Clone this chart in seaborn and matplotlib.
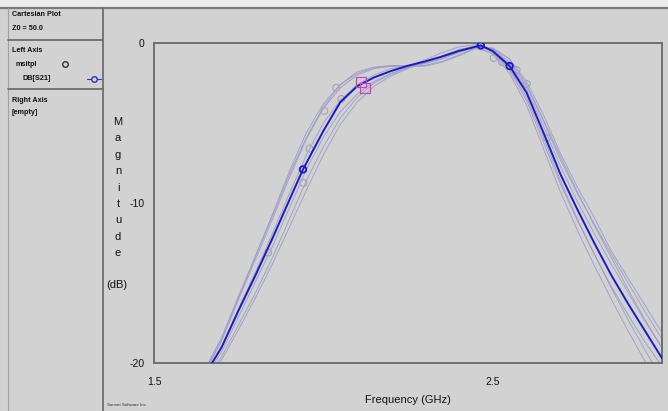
import matplotlib
matplotlib.use("Agg")
import matplotlib.pyplot as plt
from matplotlib.lines import Line2D
import seaborn as sns

# frequency grid (GHz) shared by the faint sweep curves
freq = [1.66, 1.70, 1.75, 1.80, 1.85, 1.90, 1.95, 2.00, 2.05, 2.10, 2.15, 2.20, 2.25, 2.30,
        2.35, 2.40, 2.45, 2.50, 2.55, 2.60, 2.65, 2.70, 2.75, 2.80, 2.85, 2.90, 2.95, 3.00]

sweep_a = [-20.0, -18.4, -15.8, -13.3, -10.8, -8.2, -5.9, -4.0, -2.6, -1.8, -1.5, -1.4, -1.45, -1.45,
           -1.2, -0.8, -0.35, -0.6, -1.7, -3.6, -6.2, -8.8, -11.1, -13.2, -15.2, -17.0, -18.7, -20.2]
sweep_b = [-20.2, -18.6, -16.0, -13.5, -11.0, -8.4, -6.0, -4.1, -2.8, -2.0, -1.6, -1.45, -1.4, -1.3,
           -1.0, -0.6, -0.25, -0.4, -1.2, -2.7, -4.9, -7.3, -9.4, -11.3, -13.2, -15.0, -16.8, -18.5]
sweep_c = [-20.8, -19.6, -17.6, -15.6, -13.4, -11.0, -8.6, -6.5, -4.7, -3.4, -2.5, -1.95, -1.55, -1.2,
           -0.85, -0.45, -0.2, -0.35, -1.0, -2.4, -4.5, -6.9, -9.0, -10.9, -13.0, -14.7, -16.4, -18.1]
sweep_d = [-20.6, -19.3, -17.1, -14.9, -12.7, -10.3, -7.9, -5.9, -4.3, -3.2, -2.4, -1.9, -1.5, -1.05,
           -0.6, -0.25, -0.1, -0.55, -1.6, -3.4, -5.9, -8.6, -11.0, -13.2, -15.3, -17.3, -19.2, -21.0]
sweep_e = [-20.1, -18.5, -15.9, -13.3, -10.7, -8.0, -5.6, -3.8, -2.6, -1.9, -1.55, -1.45, -1.45, -1.4,
           -1.15, -0.75, -0.3, -0.3, -1.0, -2.6, -4.8, -7.1, -9.3, -11.4, -13.4, -15.4, -17.3, -19.1]
sweep_f = [-20.4, -19.0, -16.6, -14.3, -11.9, -9.4, -7.0, -5.0, -3.6, -2.6, -2.0, -1.6, -1.45, -1.25,
           -0.95, -0.55, -0.2, -0.7, -1.9, -3.9, -6.6, -9.3, -11.7, -13.9, -16.0, -18.0, -19.9, -21.7]
sweep_g = [-20.9, -19.8, -17.9, -15.9, -13.8, -11.5, -9.2, -7.0, -5.1, -3.7, -2.7, -2.05, -1.6, -1.2,
           -0.8, -0.4, -0.2, -0.45, -1.3, -2.9, -5.2, -7.7, -9.9, -11.9, -13.8, -15.6, -17.4, -19.0]
sweeps = [sweep_a, sweep_b, sweep_c, sweep_d, sweep_e, sweep_f, sweep_g]

# highlighted DB[S21] curve
main_freq = [1.66, 1.70, 1.75, 1.80, 1.85, 1.90, 1.94, 2.00, 2.05, 2.10, 2.15, 2.20, 2.25, 2.30,
             2.35, 2.40, 2.465, 2.50, 2.55, 2.60, 2.65, 2.70, 2.75, 2.80, 2.85, 2.90, 2.95, 3.00]
main_db = [-20.4, -19.0, -16.7, -14.5, -12.2, -9.8, -7.9, -5.5, -3.7, -2.7, -2.15, -1.75, -1.42, -1.15,
           -0.85, -0.5, -0.15, -0.5, -1.44, -3.1, -5.6, -8.2, -10.4, -12.5, -14.5, -16.3, -18.0, -19.7]

main_mark_freq = [1.94, 2.465, 2.55]
main_mark_db = [-7.9, -0.15, -1.44]

sweep_mark_freq = [1.837, 1.941, 1.959, 2.003, 2.038, 2.053, 2.503, 2.527, 2.571, 2.601, 2.660]
sweep_mark_db = [-13.1, -8.75, -6.6, -4.25, -2.8, -3.5, -0.94, -1.19, -1.69, -2.56, -5.94]

probe_freq = [2.112, 2.124]
probe_db = [-2.45, -2.8]

BG = "#d2d2d2"
FAINT = "#9a9ac8"
MAIN = "#1a1ac8"
EDGE = "#6e6e6e"

sns.set_style("white")
plt.rcParams["font.family"] = ["Liberation Sans", "DejaVu Sans"]

fig = plt.figure(figsize=(6.68, 4.11), dpi=100, facecolor=BG)
ax = fig.add_axes([154 / 668, 48 / 411, 508 / 668, 320 / 411])
ax.set_facecolor(BG)

for s in sweeps:
    sns.lineplot(x=freq, y=s, ax=ax, color=FAINT, linewidth=0.7, alpha=0.85, sort=False,
                 estimator=None)
sns.scatterplot(x=sweep_mark_freq, y=sweep_mark_db, ax=ax, marker="o", s=24,
                facecolor="none", edgecolor="#a4a4b6", linewidth=0.8, zorder=3)
sns.lineplot(x=main_freq, y=main_db, ax=ax, color=MAIN, linewidth=1.4, sort=False,
             estimator=None, zorder=4)
sns.scatterplot(x=main_mark_freq, y=main_mark_db, ax=ax, marker="o", s=22,
                facecolor="none", edgecolor=MAIN, linewidth=1.3, zorder=5)
sns.scatterplot(x=probe_freq, y=probe_db, ax=ax, marker="s", s=50,
                facecolor="none", edgecolor="#d040c0", linewidth=0.9, zorder=6)

ax.set_xlim(1.5, 3.0)
ax.set_ylim(-20, 0)
ax.set_xticks([1.5, 2.5])
ax.set_xticklabels(["1.5", "2.5"])
ax.set_yticks([0, -10, -20])
ax.set_yticklabels(["0", "-10", "-20"])
ax.tick_params(axis="both", length=3, width=0.8, color=EDGE, labelsize=7.5,
               labelcolor="#111111", pad=4, direction="out")
ax.tick_params(axis="x", pad=7)
for sp in ax.spines.values():
    sp.set_visible(True)
    sp.set_color(EDGE)
    sp.set_linewidth(1.4)
ax.set_xlabel("")
ax.set_ylabel("")

# x axis title
fig.text(408 / 668, 1 - 400 / 411, "Frequency (GHz)", ha="center", va="center",
         fontsize=8, color="#111111")

# stacked y axis title
for i, ch in enumerate("Magnitude"):
    fig.text(118 / 668, 1 - (122 + i * 16.4) / 411, ch, ha="center", va="center",
             fontsize=8, color="#111111")
fig.text(117 / 668, 1 - 285 / 411, "(dB)", ha="center", va="center", fontsize=8, color="#111111")

# frame lines: top strip and left legend panel
def fline(x0, y0, x1, y1, color=EDGE, lw=1.3):
    fig.add_artist(Line2D([x0 / 668, x1 / 668], [1 - y0 / 411, 1 - y1 / 411],
                          color=color, linewidth=lw))

fig.patches.append(plt.Rectangle((0, 1 - 8 / 411), 1, 8 / 411, transform=fig.transFigure,
                                 facecolor="#ececec", edgecolor="none"))
fline(0, 8, 668, 8, "#7a7a7a", 1.6)
fline(103, 8, 103, 411)
fline(8, 8, 8, 411, "#a0a0a0", 0.8)
fline(8, 40, 103, 40)
fline(8, 89, 103, 89)

panel_font = ["Liberation Sans Narrow", "Liberation Sans", "DejaVu Sans"]
def ptext(x, y, s, **kw):
    fig.text(x / 668, 1 - y / 411, s, ha="left", va="center", fontsize=5.2,
             fontweight="bold", color="#111111", family=panel_font, **kw)

ptext(12, 15, "Cartesian Plot")
ptext(12, 29, "Z0 = 50.0")
ptext(12, 51, "Left Axis")
ptext(16, 64, "msitpl")
ptext(22, 79, "DB[S21]")
ptext(12, 100, "Right Axis")
ptext(12, 113, "[empty]")
fig.add_artist(Line2D([65 / 668], [1 - 64 / 411], marker="o", markersize=4,
                      markerfacecolor="none", markeredgecolor="#333333", linestyle="none"))
fig.add_artist(Line2D([87 / 668, 101 / 668], [1 - 79 / 411, 1 - 79 / 411], color="#3030c8",
                      linewidth=0.8))
fig.add_artist(Line2D([94 / 668], [1 - 79 / 411], marker="o", markersize=4,
                      markerfacecolor=BG, markeredgecolor="#3030c8", linestyle="none"))
fig.text(107 / 668, 1 - 405 / 411, "Sonnet Software Inc.", fontsize=3.2, color="#333333",
         ha="left", va="center")

fig.savefig("out.png", dpi=100, facecolor=BG)
